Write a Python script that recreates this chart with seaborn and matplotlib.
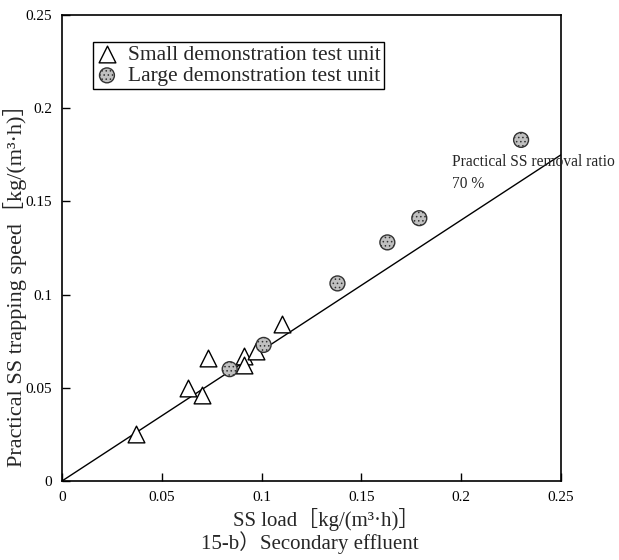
import matplotlib
matplotlib.use("Agg")
import matplotlib.pyplot as plt
import seaborn as sns
import numpy as np
import pandas as pd

# Data
small_x = [0.037, 0.063, 0.070, 0.073, 0.091, 0.091, 0.097, 0.110]
small_y = [0.025, 0.050, 0.046, 0.066, 0.067, 0.062, 0.070, 0.084]
large_x = [0.084, 0.101, 0.138, 0.163, 0.179, 0.230]
large_y = [0.060, 0.073, 0.106, 0.128, 0.141, 0.183]
ratio = 0.70
line_x = [0.0, 0.25]
ticks = [0, 0.05, 0.1, 0.15, 0.2, 0.25]
tick_labels = ["0", "0.05", "0.1", "0.15", "0.2", "0.25"]

sns.set_style("white")
SERIF = ["Liberation Serif", "Noto Sans CJK JP", "DejaVu Sans"]
plt.rcParams["font.family"] = SERIF
plt.rcParams["hatch.linewidth"] = 0.6

fig = plt.figure(figsize=(6.19, 5.6), dpi=100)
ax = fig.add_axes([0.1002, 0.1411, 0.8061, 0.8321])

df_line = pd.DataFrame({"x": line_x, "y": [v * ratio for v in line_x]})
sns.lineplot(data=df_line, x="x", y="y", ax=ax, color="black", lw=1.0)

df_s = pd.DataFrame({"x": small_x, "y": small_y})
df_l = pd.DataFrame({"x": large_x, "y": large_y})
sns.scatterplot(data=df_s, x="x", y="y", ax=ax, marker="^", s=145,
                facecolor="white", edgecolor="black", linewidth=1.0,
                label="Small demonstration test unit", zorder=3)
sns.scatterplot(data=df_l, x="x", y="y", ax=ax, marker="o", s=115,
                facecolor="#c0c0c0", edgecolor="#333333", linewidth=1.0,
                hatch="....", label="Large demonstration test unit", zorder=4)

ax.set_xlim(0, 0.25)
ax.set_ylim(0, 0.25)
ax.set_xticks(ticks)
ax.set_xticklabels(tick_labels)
ax.set_yticks(ticks)
ax.set_yticklabels(tick_labels)
ax.tick_params(direction="in", length=6, width=1, labelsize=11, pad=7,
               colors="black", bottom=True, left=True)
for sp in ax.spines.values():
    sp.set_color("black")
    sp.set_linewidth(1.2)

ax.set_xlabel("SS load［kg/(m³·h)］", fontsize=15)
ax.xaxis.set_label_coords(0.53, (481 - 520) / 466)
ax.xaxis.label.set_va("center")
ax.set_ylabel("Practical SS trapping speed［kg/(m³·h)］", fontsize=16)
ax.yaxis.label.set_va("center")
ax.yaxis.set_label_coords(-0.094, 0.431)
fig.text(0.501, 1 - 543 / 560, "15-b）Secondary effluent", ha="center",
         va="center", fontsize=15, family=SERIF)

ax.text(0.1955, 0.1652, "Practical SS removal ratio\n70 %", fontsize=11.2,
        ha="left", va="center", linespacing=1.45, clip_on=False)

leg = ax.legend(loc="upper left", bbox_to_anchor=(0.062, 0.943), frameon=True,
                fancybox=False, edgecolor="black", framealpha=1,
                fontsize=15.5, handletextpad=0.5, borderpad=0.15,
                labelspacing=0.05, borderaxespad=0, handlelength=1.0)
leg.get_frame().set_linewidth(1.0)

fig.savefig("out.png", dpi=100)
